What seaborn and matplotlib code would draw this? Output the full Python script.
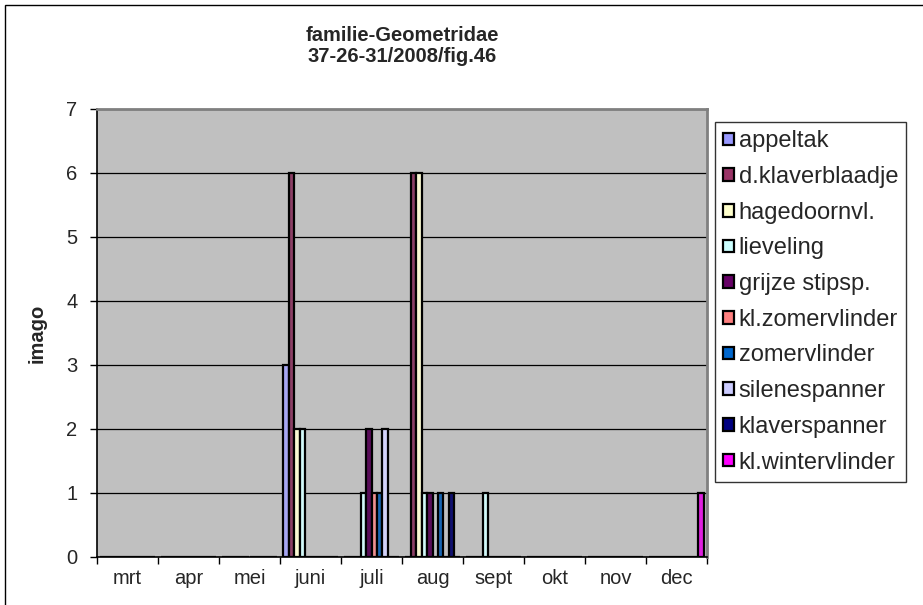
import numpy as np
import pandas as pd
import seaborn as sns
import matplotlib.pyplot as plt
from matplotlib.patches import Patch, Rectangle

months = ['mrt', 'apr', 'mei', 'juni', 'juli', 'aug', 'sept', 'okt', 'nov', 'dec']
species = ['appeltak', 'd.klaverblaadje', 'hagedoornvl.', 'lieveling', 'grijze stipsp.',
           'kl.zomervlinder', 'zomervlinder', 'silenespanner', 'klaverspanner', 'kl.wintervlinder']

appeltak = [0, 0, 0, 3, 0, 0, 0, 0, 0, 0]
d_klaverblaadje = [0, 0, 0, 6, 0, 6, 0, 0, 0, 0]
hagedoornvl = [0, 0, 0, 2, 0, 6, 0, 0, 0, 0]
lieveling = [0, 0, 0, 2, 1, 1, 1, 0, 0, 0]
grijze_stipsp = [0, 0, 0, 0, 2, 1, 0, 0, 0, 0]
kl_zomervlinder = [0, 0, 0, 0, 1, 0, 0, 0, 0, 0]
zomervlinder = [0, 0, 0, 0, 1, 1, 0, 0, 0, 0]
silenespanner = [0, 0, 0, 0, 2, 0, 0, 0, 0, 0]
klaverspanner = [0, 0, 0, 0, 0, 1, 0, 0, 0, 0]
kl_wintervlinder = [0, 0, 0, 0, 0, 0, 0, 0, 0, 1]

colors = ['#9999FF', '#993366', '#FFFFCC', '#CCFFFF', '#660066',
          '#FF8080', '#0066CC', '#CCCCFF', '#000080', '#FF00FF']

series = [appeltak, d_klaverblaadje, hagedoornvl, lieveling, grijze_stipsp,
          kl_zomervlinder, zomervlinder, silenespanner, klaverspanner, kl_wintervlinder]

rows = []
for name, vals in zip(species, series):
    for m, v in zip(months, vals):
        rows.append({'maand': m, 'imago': v, 'soort': name})
df = pd.DataFrame(rows)

sns.set_theme(style='white')
plt.rcParams['font.family'] = ['Liberation Sans', 'DejaVu Sans']

fig = plt.figure(figsize=(9.23, 6.05), dpi=100)
ax = fig.add_axes([97 / 923, 1 - 557 / 605, 610 / 923, 448 / 605])
ax.set_facecolor('#C0C0C0')

sns.barplot(data=df, x='maand', y='imago', hue='soort', hue_order=species,
            order=months, palette=colors, width=0.9, errorbar=None,
            edgecolor='black', linewidth=1.6, legend=False, ax=ax, zorder=3)

ax.set_ylim(0, 7)
ax.set_xlim(-0.5, 9.5)
ax.set_yticks(range(8))
ax.yaxis.grid(True, color='black', linewidth=0.9, zorder=0)
ax.set_axisbelow(True)

ax.set_xticks(range(10))
ax.set_xticklabels(months, fontsize=14.5)
ax.set_xticks(np.arange(-0.5, 10, 1), minor=True)
ax.tick_params(axis='x', which='major', length=0, pad=9)
ax.tick_params(axis='x', which='minor', length=5, width=1, color='black', direction='out', bottom=True)
ax.tick_params(axis='y', length=5, width=1, color='black', direction='out', left=True, labelsize=14.5, pad=9)

ax.set_xlabel('')
ax.set_ylabel('imago', fontsize=14.5, fontweight='bold')
ax.yaxis.set_label_coords(-0.082, 0.5)

for side in ['top', 'right']:
    ax.spines[side].set_color('#808080')
    ax.spines[side].set_linewidth(2)
for side in ['left', 'bottom']:
    ax.spines[side].set_color('black')
    ax.spines[side].set_linewidth(1.2)

fig.text(402 / 923, 1 - 46 / 605, 'familie-Geometridae\n37-26-31/2008/fig.46',
         ha='center', va='center', fontsize=14.5, fontweight='bold', linespacing=1.15)

handles = [Patch(facecolor=c, edgecolor='black', linewidth=1.6) for c in colors]
leg = fig.legend(handles, species, loc='upper left',
                 bbox_to_anchor=(715 / 923, 1 - 122 / 605), fontsize=17,
                 frameon=True, fancybox=False, edgecolor='black',
                 handlelength=0.45, handleheight=0.45, handletextpad=0.2,
                 labelspacing=0.58, borderpad=0.35, borderaxespad=0)
leg.get_frame().set_linewidth(1)

fig.patches.append(Rectangle((5 / 923, -0.1), 1.2, 1 - 5 / 605 + 0.1,
                             transform=fig.transFigure, fill=False,
                             edgecolor='black', linewidth=1))

fig.savefig('out.png', dpi=100)
